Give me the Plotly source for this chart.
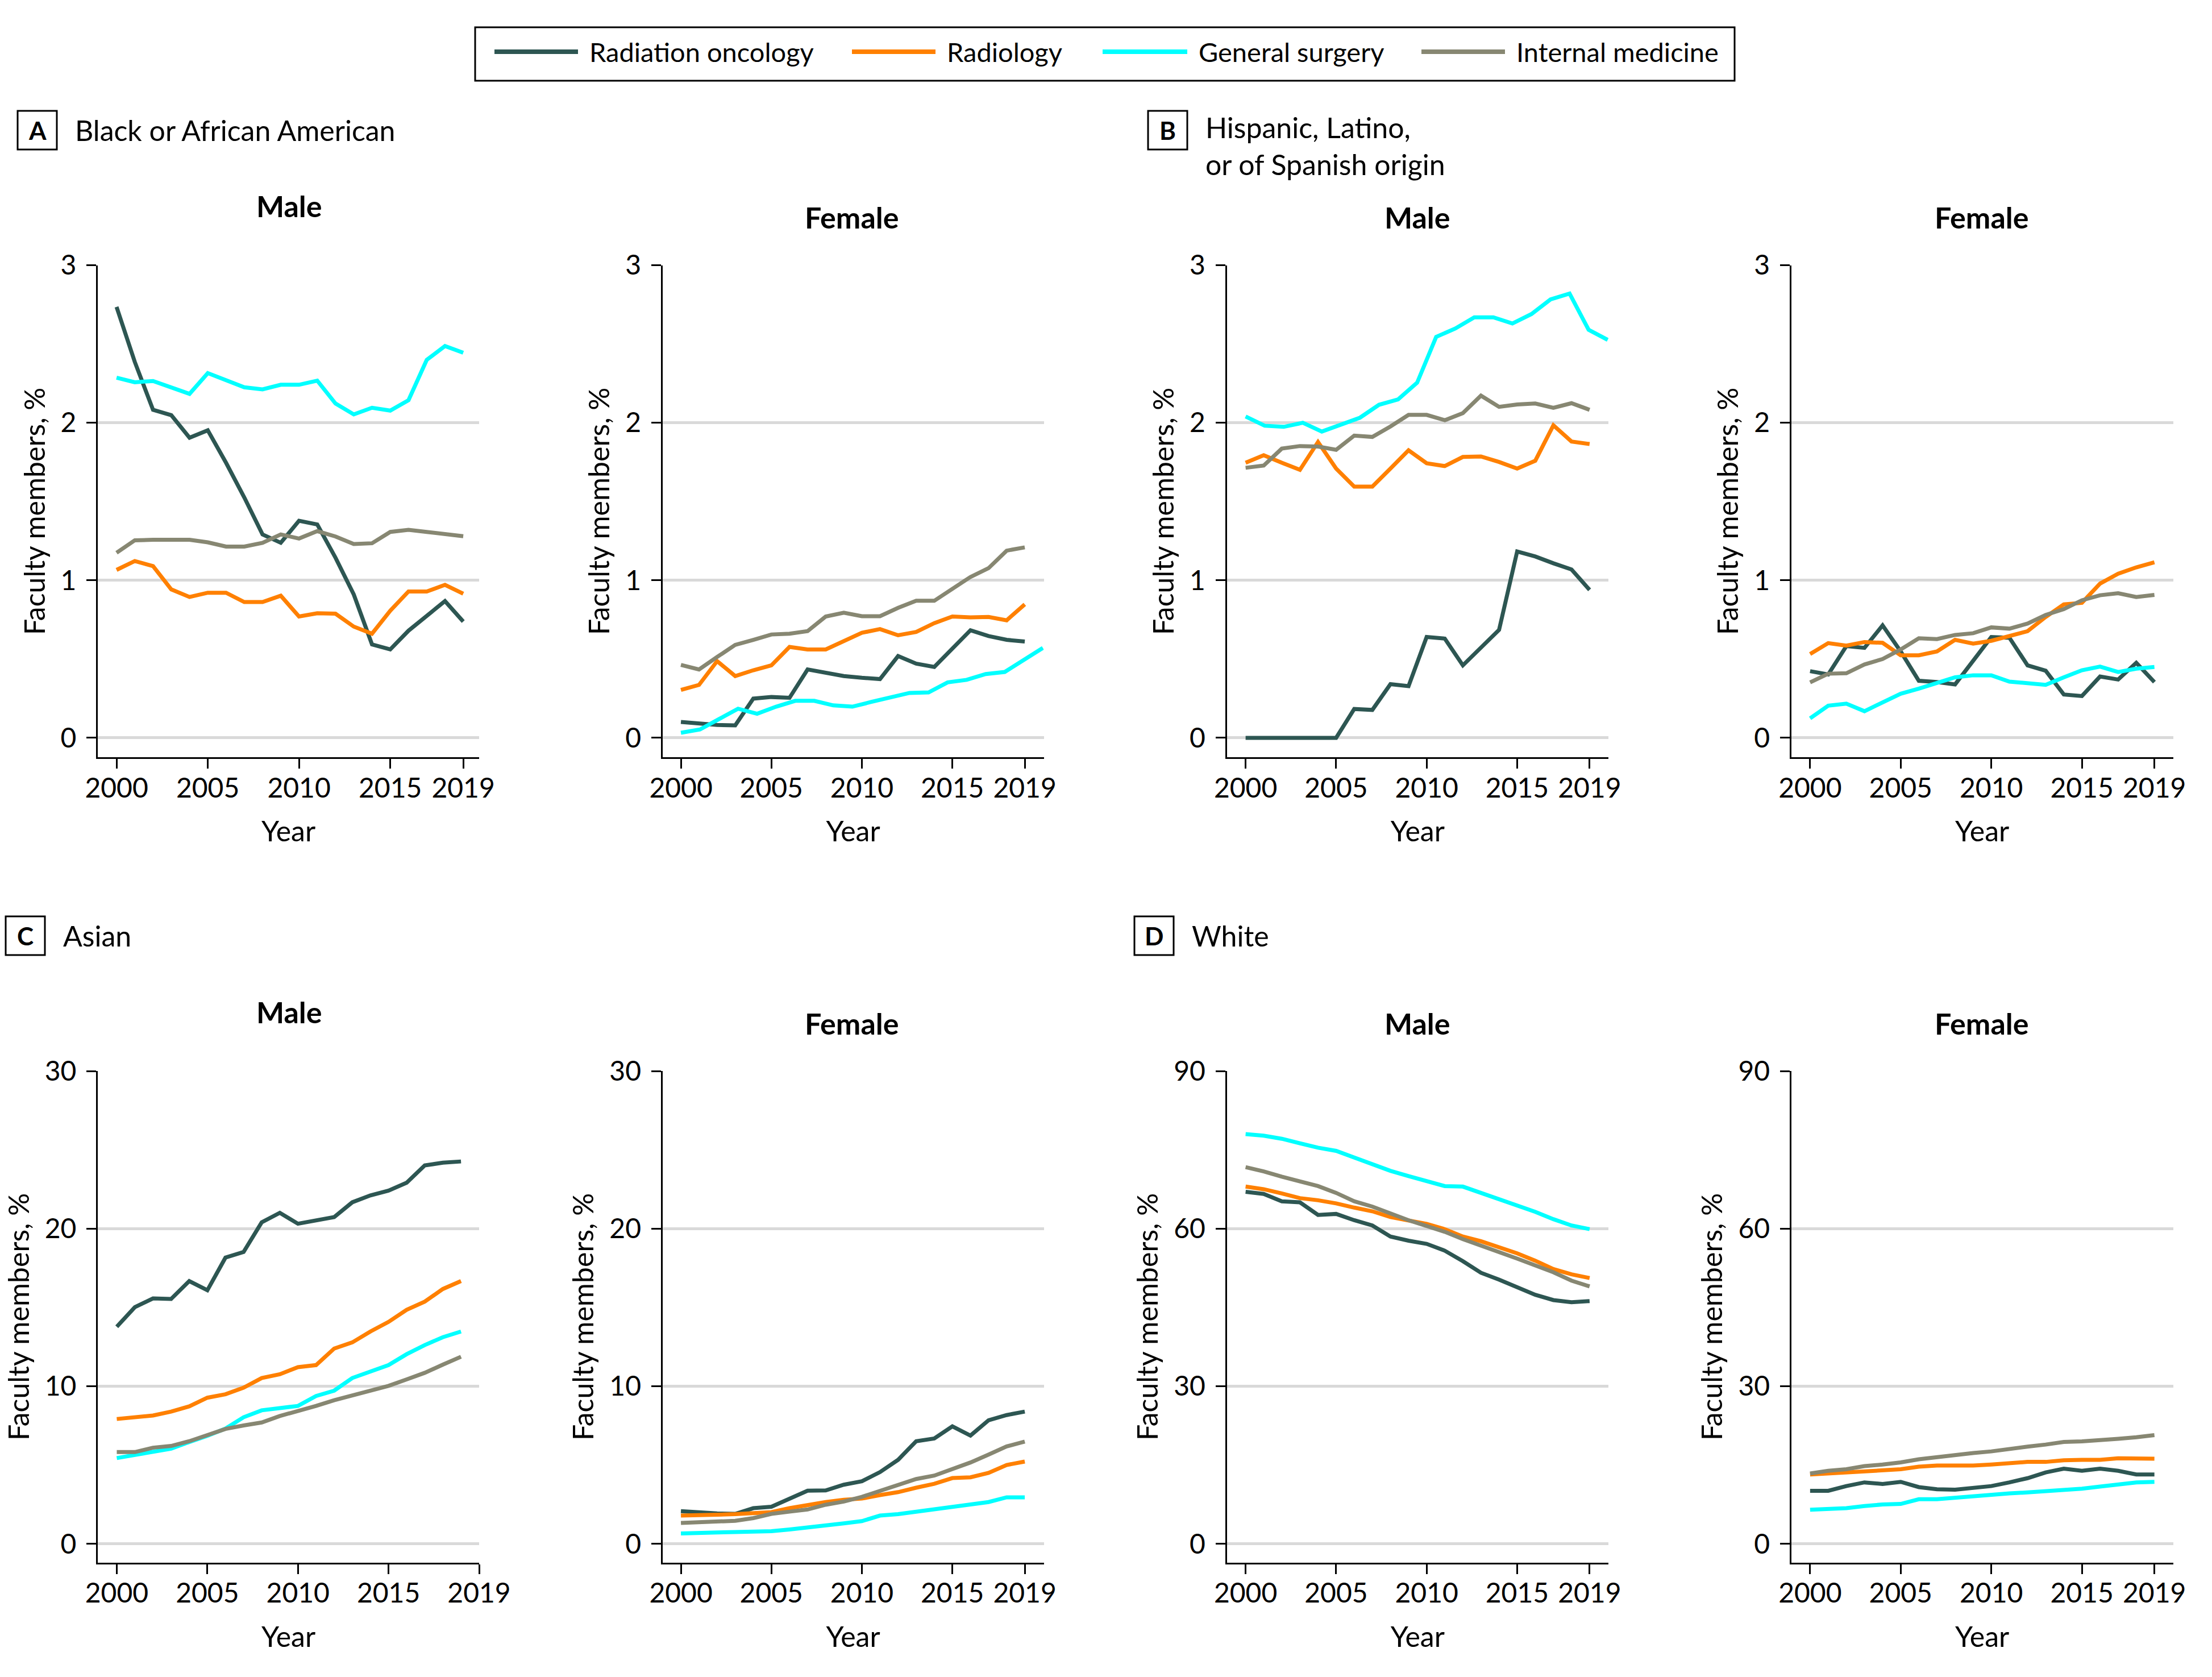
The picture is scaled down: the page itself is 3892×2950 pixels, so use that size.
import plotly.graph_objects as go

W, H = 3892, 2950

# ---------------- data ----------------
years = list(range(2000, 2020))
# in the source figure a few General surgery series are spread across 2000-2020
years_ext = [2000 + i * 20 / 19 for i in range(20)]

series_names = ["Radiation oncology", "Radiology", "General surgery", "Internal medicine"]
series_colors = ["#2D5652", "#FF8000", "#00FFFF", "#878772"]

# A. Black or African American
a_male_radonc = [2.735, 2.386, 2.082, 2.048, 1.905, 1.952, 1.746, 1.526, 1.291, 1.238,
                 1.378, 1.354, 1.143, 0.910, 0.593, 0.561, 0.680, 0.778, 0.868, 0.738]
a_male_radiol = [1.066, 1.122, 1.090, 0.942, 0.894, 0.921, 0.921, 0.862, 0.862, 0.902,
                 0.770, 0.791, 0.788, 0.706, 0.661, 0.807, 0.929, 0.929, 0.971, 0.915]
a_male_gensurg = [2.286, 2.257, 2.265, 2.222, 2.183, 2.315, 2.267, 2.225, 2.212, 2.241,
                  2.241, 2.267, 2.122, 2.053, 2.095, 2.077, 2.143, 2.399, 2.487, 2.444]
a_male_intmed = [1.175, 1.254, 1.257, 1.259, 1.257, 1.241, 1.214, 1.214, 1.238, 1.291,
                 1.265, 1.312, 1.278, 1.230, 1.235, 1.307, 1.320, 1.307, 1.294, 1.280]

a_female_radonc = [0.101, 0.090, 0.082, 0.079, 0.249, 0.259, 0.254, 0.434, 0.413, 0.392,
                   0.381, 0.373, 0.519, 0.471, 0.450, 0.566, 0.683, 0.646, 0.622, 0.611]
a_female_radiol = [0.304, 0.336, 0.487, 0.392, 0.429, 0.460, 0.577, 0.561, 0.561, 0.614,
                   0.667, 0.690, 0.651, 0.672, 0.728, 0.770, 0.765, 0.767, 0.746, 0.847]
a_female_gensurg = [0.032, 0.053, 0.119, 0.185, 0.153, 0.198, 0.235, 0.235, 0.206, 0.198,
                    0.228, 0.257, 0.285, 0.288, 0.352, 0.368, 0.405, 0.418, 0.492, 0.571]
a_female_intmed = [0.463, 0.434, 0.513, 0.590, 0.622, 0.656, 0.661, 0.677, 0.770, 0.794,
                   0.772, 0.772, 0.825, 0.870, 0.870, 0.944, 1.021, 1.077, 1.188, 1.209]

# B. Hispanic, Latino, or of Spanish origin
b_male_radonc = [0.0, 0.0, 0.0, 0.0, 0.0, 0.0, 0.183, 0.177, 0.341, 0.328,
                 0.640, 0.630, 0.460, 0.571, 0.685, 1.183, 1.151, 1.108, 1.069, 0.939]
b_male_radiol = [1.746, 1.794, 1.746, 1.701, 1.878, 1.709, 1.595, 1.595, 1.709, 1.825,
                 1.743, 1.725, 1.783, 1.786, 1.751, 1.709, 1.759, 1.984, 1.881, 1.865]
b_male_gensurg = [2.040, 1.981, 1.974, 2.000, 1.944, 1.989, 2.032, 2.114, 2.148, 2.254,
                  2.545, 2.598, 2.669, 2.669, 2.630, 2.690, 2.783, 2.820, 2.590, 2.526]
b_male_intmed = [1.714, 1.728, 1.836, 1.852, 1.849, 1.828, 1.918, 1.910, 1.976, 2.050,
                 2.050, 2.016, 2.061, 2.172, 2.101, 2.116, 2.122, 2.095, 2.124, 2.082]

b_female_radonc = [0.423, 0.402, 0.582, 0.571, 0.714, 0.548, 0.362, 0.354, 0.339, 0.489,
                   0.640, 0.635, 0.460, 0.426, 0.275, 0.265, 0.389, 0.370, 0.476, 0.354]
b_female_radiol = [0.532, 0.601, 0.585, 0.608, 0.603, 0.524, 0.524, 0.548, 0.622, 0.598,
                   0.616, 0.646, 0.677, 0.767, 0.847, 0.857, 0.979, 1.042, 1.082, 1.114]
b_female_gensurg = [0.124, 0.204, 0.217, 0.169, 0.225, 0.280, 0.312, 0.349, 0.384, 0.397,
                    0.397, 0.357, 0.347, 0.336, 0.384, 0.429, 0.452, 0.418, 0.439, 0.450]
b_female_intmed = [0.352, 0.407, 0.410, 0.466, 0.500, 0.561, 0.632, 0.627, 0.653, 0.664,
                   0.701, 0.693, 0.725, 0.780, 0.817, 0.873, 0.905, 0.918, 0.894, 0.907]

# C. Asian
c_male_radonc = [13.77, 15.02, 15.57, 15.54, 16.67, 16.09, 18.16, 18.52, 20.40, 21.00,
                 20.31, 20.51, 20.73, 21.67, 22.11, 22.41, 22.91, 24.01, 24.18, 24.26]
c_male_radiol = [7.92, 8.00, 8.14, 8.39, 8.72, 9.27, 9.49, 9.91, 10.52, 10.76,
                 11.21, 11.34, 12.39, 12.78, 13.47, 14.08, 14.85, 15.37, 16.17, 16.67]
c_male_gensurg = [5.44, 5.66, 5.85, 6.04, 6.46, 6.85, 7.31, 8.03, 8.47, 8.58,
                  8.75, 9.38, 9.72, 10.52, 10.93, 11.34, 12.03, 12.61, 13.11, 13.47]
c_male_intmed = [5.82, 5.82, 6.10, 6.21, 6.51, 6.90, 7.29, 7.51, 7.70, 8.11,
                 8.42, 8.75, 9.11, 9.41, 9.66, 10.02, 10.43, 10.85, 11.37, 11.87]

c_female_radonc = [2.07, 1.99, 1.93, 1.90, 2.26, 2.35, 2.87, 3.37, 3.39, 3.75,
                   3.97, 4.55, 5.33, 6.51, 6.68, 7.45, 6.87, 7.84, 8.17, 8.39]
c_female_radiol = [1.79, 1.79, 1.85, 1.88, 1.96, 2.01, 2.26, 2.46, 2.65, 2.79,
                   2.87, 3.09, 3.28, 3.56, 3.81, 4.17, 4.22, 4.50, 5.00, 5.22]
c_female_gensurg = [0.66, 0.72, 0.72, 0.75, 0.77, 0.80, 0.91, 1.02, 1.16, 1.30,
                    1.44, 1.79, 1.88, 2.04, 2.21, 2.37, 2.54, 2.65, 2.95, 2.95]
c_female_intmed = [1.32, 1.38, 1.41, 1.46, 1.63, 1.90, 2.04, 2.18, 2.48, 2.68,
                   2.98, 3.37, 3.75, 4.11, 4.33, 4.72, 5.16, 5.66, 6.18, 6.49]

# D. White
d_male_radonc = [67.0, 66.6, 65.2, 65.0, 62.6, 62.8, 61.6, 60.6, 58.5, 57.7,
                 57.1, 55.8, 53.8, 51.6, 50.3, 48.8, 47.4, 46.4, 46.0, 46.2]
d_male_radiol = [68.0, 67.5, 66.7, 65.8, 65.4, 64.8, 64.0, 63.3, 62.2, 61.6,
                 60.9, 59.9, 58.5, 57.6, 56.5, 55.3, 53.9, 52.3, 51.3, 50.6]
d_male_gensurg = [78.0, 77.7, 77.1, 76.3, 75.4, 74.8, 73.5, 72.2, 71.0, 70.0,
                  69.1, 68.1, 68.0, 66.8, 65.7, 64.4, 63.2, 61.8, 60.6, 59.9]
d_male_intmed = [71.7, 70.9, 69.9, 69.0, 68.1, 66.8, 65.2, 64.2, 62.8, 61.6,
                 60.5, 59.4, 58.0, 56.7, 55.6, 54.3, 53.0, 51.7, 50.1, 49.0]

d_female_radonc = [10.1, 10.1, 11.0, 11.7, 11.4, 11.8, 10.8, 10.4, 10.3, 10.6,
                   11.0, 11.7, 12.5, 13.6, 14.3, 13.9, 14.3, 13.9, 13.2, 13.2]
d_female_radiol = [13.2, 13.4, 13.6, 13.9, 14.1, 14.2, 14.7, 14.9, 14.9, 14.9,
                   15.1, 15.4, 15.6, 15.6, 15.9, 16.0, 16.0, 16.3, 16.3, 16.2]
d_female_gensurg = [6.5, 6.7, 6.8, 7.2, 7.5, 7.6, 8.5, 8.5, 8.8, 9.0,
                    9.4, 9.6, 9.8, 10.0, 10.3, 10.5, 10.9, 11.3, 11.7, 11.8]
d_female_intmed = [13.4, 13.9, 14.2, 14.8, 15.1, 15.5, 16.1, 16.5, 17.0, 17.3,
                   17.6, 18.1, 18.5, 18.9, 19.4, 19.5, 19.7, 20.0, 20.3, 20.7]

x_tick_vals = [2000, 2005, 2010, 2015, 2019]
x_tick_vals_c_male = [2000, 2005, 2010, 2015, 2020]
x_tick_text = ["2000", "2005", "2010", "2015", "2019"]
y_ticks_small = [0, 1, 2, 3]
y_ticks_asian = [0, 10, 20, 30]
y_ticks_white = [0, 30, 60, 90]

group_labels = ["A", "B", "C", "D"]
group_titles = ["Black or African American", "Hispanic, Latino,<br>or of Spanish origin",
                "Asian", "White"]
sex_titles = ["Male", "Female"]

# ---------------- layout helpers (pixel geometry) ----------------
FONT = "Lato, 'Noto Sans', 'DejaVu Sans', sans-serif"
TICK_SIZE = 48
TITLE_SIZE = 50

def px_x(p):
    return p / W

def px_y(p):
    return 1 - p / H

col_px = [(172, 843), (1165.6, 1836.5), (2158.5, 2830), (3151.7, 3823.5)]
row_px = [(466.5, 1332), (1884, 2748.7)]

panels = [
    # (row, col, series lists, x of each series, yticks, yrange, xrange, xticks)
    (0, 0, [a_male_radonc, a_male_radiol, a_male_gensurg, a_male_intmed],
     [years, years, years, years], y_ticks_small, [-0.123, 3], [1998.97, 2019.87], x_tick_vals),
    (0, 1, [a_female_radonc, a_female_radiol, a_female_gensurg, a_female_intmed],
     [years, years, years_ext, years], y_ticks_small, [-0.123, 3], [1998.98, 2020.05], x_tick_vals),
    (0, 2, [b_male_radonc, b_male_radiol, b_male_gensurg, b_male_intmed],
     [years, years, years_ext, years], y_ticks_small, [-0.123, 3], [1998.96, 2020.04], x_tick_vals),
    (0, 3, [b_female_radonc, b_female_radiol, b_female_gensurg, b_female_intmed],
     [years, years, years, years], y_ticks_small, [-0.123, 3], [1998.96, 2020.03], x_tick_vals),
    (1, 0, [c_male_radonc, c_male_radiol, c_male_gensurg, c_male_intmed],
     [years, years, years, years], y_ticks_asian, [-1.19, 30], [1998.95, 2020.0], x_tick_vals_c_male),
    (1, 1, [c_female_radonc, c_female_radiol, c_female_gensurg, c_female_intmed],
     [years, years, years, years], y_ticks_asian, [-1.19, 30], [1998.98, 2020.05], x_tick_vals),
    (1, 2, [d_male_radonc, d_male_radiol, d_male_gensurg, d_male_intmed],
     [years, years, years, years], y_ticks_white, [-3.56, 90], [1998.96, 2020.04], x_tick_vals),
    (1, 3, [d_female_radonc, d_female_radiol, d_female_gensurg, d_female_intmed],
     [years, years, years, years], y_ticks_white, [-3.56, 90], [1998.96, 2020.03], x_tick_vals),
]

fig = go.Figure()
layout = {}

for k, (r, c, ser, xs, yt, yr, xr, xt) in enumerate(panels, start=1):
    xa = "x" if k == 1 else f"x{k}"
    ya = "y" if k == 1 else f"y{k}"
    for s_idx, (vals, xv) in enumerate(zip(ser, xs)):
        fig.add_trace(go.Scatter(
            x=xv, y=vals, mode="lines", name=series_names[s_idx],
            line=dict(color=series_colors[s_idx], width=7),
            showlegend=False, xaxis=xa, yaxis=ya, cliponaxis=False))
    x0, x1 = col_px[c]
    y0, y1 = row_px[r]
    layout["xaxis" if k == 1 else f"xaxis{k}"] = dict(
        domain=[px_x(x0), px_x(x1)], range=xr, anchor=ya,
        tickvals=xt, ticktext=x_tick_text,
        showgrid=False, zeroline=False, showline=True, linecolor="black", linewidth=3,
        ticks="outside", ticklen=17, tickwidth=3, tickcolor="black",
        ticklabelstandoff=-7,
        tickfont=dict(family=FONT, size=TICK_SIZE, color="black"),
        title=dict(text="Year", font=dict(family=FONT, size=TITLE_SIZE, color="black"), standoff=34),
        automargin=False, fixedrange=True)
    layout["yaxis" if k == 1 else f"yaxis{k}"] = dict(
        domain=[px_y(y1), px_y(y0)], range=yr, anchor=xa,
        tickvals=yt, showgrid=True, gridcolor="#D9D9D9", gridwidth=5,
        zeroline=False, showline=True, linecolor="black", linewidth=3,
        ticks="outside", ticklen=17, tickwidth=3, tickcolor="black",
        ticklabelstandoff=8,
        tickfont=dict(family=FONT, size=TICK_SIZE, color="black"),
        title=dict(text="Faculty members, %", font=dict(family=FONT, size=TITLE_SIZE, color="black"),
                   standoff=12),
        automargin=False, fixedrange=True)

annotations = []
shapes = []

# sex titles above each panel
title_pos = [
    [(509, 362), (1499, 382), (2494, 382), (3487, 382)],
    [(509, 1780), (1499, 1800), (2494, 1800), (3487, 1800)],
]
for r in range(2):
    for c in range(4):
        xp, yp = title_pos[r][c]
        annotations.append(dict(
            text=f"<b>{sex_titles[c % 2]}</b>", x=px_x(xp), y=px_y(yp), xref="paper", yref="paper",
            xanchor="center", yanchor="middle", showarrow=False,
            font=dict(family=FONT, size=52, color="black")))

# group labels (boxed letters) and group headings
box_px = [(31, 195, 100, 263), (2020, 195, 2089, 263), (10, 1612, 79, 1680), (1996, 1612, 2065, 1680)]
heading_y = [229, 257, 1646, 1646]
for g in range(4):
    bx0, by0, bx1, by1 = box_px[g]
    shapes.append(dict(type="rect", xref="paper", yref="paper",
                       x0=px_x(bx0), x1=px_x(bx1), y0=px_y(by1), y1=px_y(by0),
                       line=dict(color="black", width=3), fillcolor="white"))
    annotations.append(dict(
        text=f"<b>{group_labels[g]}</b>", x=px_x((bx0 + bx1) / 2), y=px_y((by0 + by1) / 2),
        xref="paper", yref="paper", xanchor="center", yanchor="middle", showarrow=False,
        font=dict(family=FONT, size=44, color="black")))
    annotations.append(dict(
        text=group_titles[g], x=px_x(bx1 + 30), y=px_y(heading_y[g]),
        xref="paper", yref="paper", xanchor="left", yanchor="middle", showarrow=False, align="left",
        font=dict(family=FONT, size=50, color="black")))

# legend box with swatches
shapes.append(dict(type="rect", xref="paper", yref="paper",
                   x0=px_x(836), x1=px_x(3052), y0=px_y(142), y1=px_y(48),
                   line=dict(color="black", width=3), fillcolor="white"))
swatch_px = [(870, 1017), (1499, 1646), (1940, 2089), (2501, 2648)]
legend_y = 91
for i, (sx0, sx1) in enumerate(swatch_px):
    shapes.append(dict(type="line", xref="paper", yref="paper",
                       x0=px_x(sx0), x1=px_x(sx1), y0=px_y(legend_y), y1=px_y(legend_y),
                       line=dict(color=series_colors[i], width=8)))
    annotations.append(dict(
        text=series_names[i], x=px_x(sx1 + 18), y=px_y(legend_y),
        xref="paper", yref="paper", xanchor="left", yanchor="middle", showarrow=False,
        font=dict(family=FONT, size=47, color="black")))

fig.update_layout(
    width=W, height=H, margin=dict(l=0, r=0, t=0, b=0),
    paper_bgcolor="white", plot_bgcolor="white",
    font=dict(family=FONT, color="black"),
    showlegend=False,
    annotations=annotations, shapes=shapes,
    **layout)

fig.write_html("out.html", config={"displayModeBar": False},
               post_script="document.body.style.margin='0px';document.body.style.padding='0px';")
